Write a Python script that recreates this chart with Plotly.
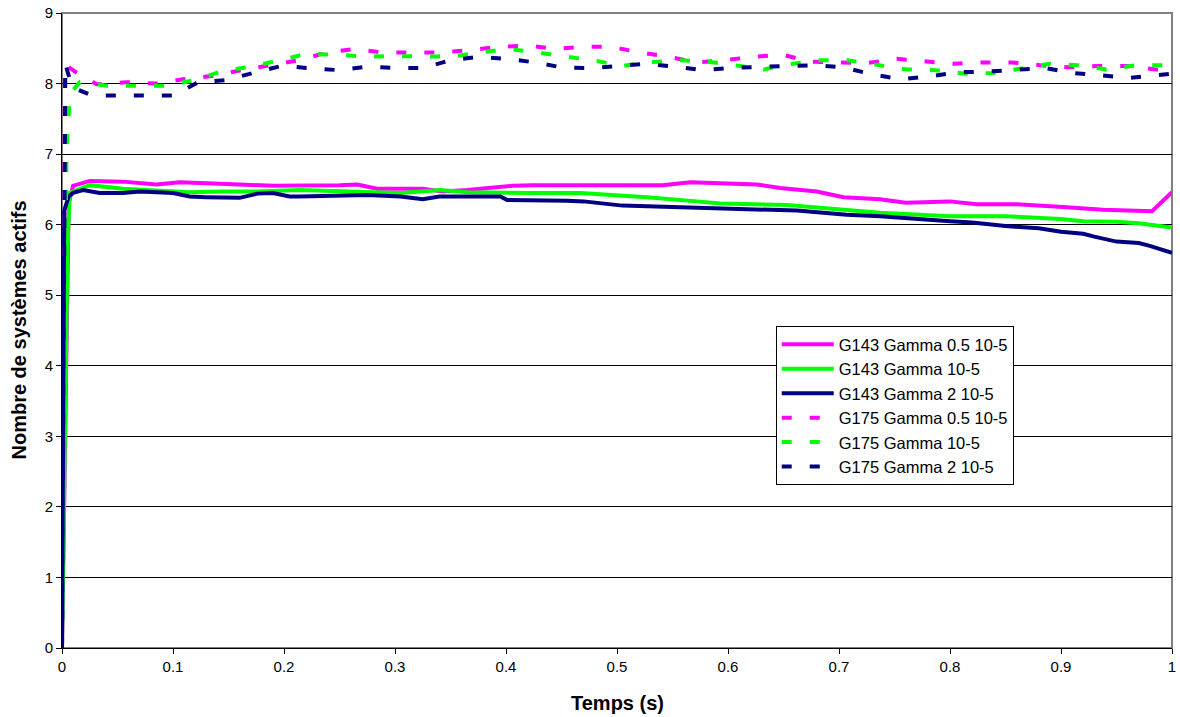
import plotly.graph_objects as go

# ---- Data ----
names = ["G143 Gamma 0.5 10-5", "G143 Gamma 10-5", "G143 Gamma 2 10-5",
         "G175 Gamma 0.5 10-5", "G175 Gamma 10-5", "G175 Gamma 2 10-5"]

t_g143_05 = [0, 0.006, 0.01, 0.025, 0.055, 0.085, 0.106, 0.13, 0.16, 0.19, 0.22, 0.25, 0.266, 0.284,
             0.325, 0.343, 0.365, 0.406, 0.424, 0.485, 0.541, 0.566, 0.626, 0.647, 0.68, 0.704, 0.737,
             0.76, 0.8, 0.824, 0.86, 0.902, 0.938, 0.982, 1.0]
v_g143_05 = [0, 6.3, 6.55, 6.62, 6.61, 6.57, 6.6, 6.59, 6.57, 6.55, 6.55, 6.56, 6.57, 6.51,
             6.51, 6.47, 6.49, 6.55, 6.56, 6.56, 6.56, 6.6, 6.57, 6.52, 6.47, 6.39, 6.36,
             6.31, 6.33, 6.29, 6.29, 6.25, 6.21, 6.19, 6.46]

t_g143_1 = [0, 0.005, 0.007, 0.025, 0.055, 0.085, 0.115, 0.145, 0.175, 0.214, 0.259, 0.305, 0.323,
            0.341, 0.365, 0.395, 0.424, 0.467, 0.527, 0.572, 0.593, 0.653, 0.707, 0.737, 0.8, 0.85,
            0.9, 0.92, 0.95, 0.97, 1.0]
v_g143_1 = [0, 5.7, 6.45, 6.56, 6.51, 6.49, 6.46, 6.47, 6.47, 6.49, 6.47, 6.45, 6.47,
            6.49, 6.46, 6.45, 6.45, 6.45, 6.39, 6.33, 6.3, 6.28, 6.21, 6.17, 6.12, 6.12,
            6.08, 6.05, 6.04, 6.02, 5.96]

t_g143_2 = [0, 0.002, 0.006, 0.01, 0.019, 0.034, 0.055, 0.07, 0.1, 0.115, 0.13, 0.145, 0.16, 0.176,
            0.19, 0.205, 0.214, 0.275, 0.305, 0.325, 0.34, 0.395, 0.401, 0.455, 0.47, 0.505, 0.557,
            0.617, 0.662, 0.707, 0.737, 0.8, 0.82, 0.85, 0.88, 0.9, 0.92, 0.93, 0.95, 0.97, 0.98, 1.0]
v_g143_2 = [0, 6.2, 6.4, 6.45, 6.49, 6.45, 6.45, 6.47, 6.45, 6.4, 6.39, 6.38, 6.38, 6.44,
            6.45, 6.4, 6.4, 6.42, 6.4, 6.36, 6.4, 6.4, 6.35, 6.34, 6.33, 6.27, 6.25,
            6.23, 6.2, 6.14, 6.12, 6.05, 6.03, 5.98, 5.95, 5.9, 5.87, 5.83, 5.76, 5.74, 5.7, 5.6]

t_g175_05 = [0, 0.0027, 0.0117, 0.0313, 0.0583, 0.0838, 0.109, 0.136, 0.162, 0.187, 0.213, 0.239,
             0.264, 0.289, 0.315, 0.34, 0.366, 0.393, 0.419, 0.444, 0.469, 0.495, 0.521, 0.546,
             0.572, 0.597, 0.623, 0.649, 0.674, 0.699, 0.725, 0.752, 0.777, 0.803, 0.829, 0.856,
             0.881, 0.906, 0.932, 0.959, 0.985, 1.0]
v_g175_05 = [0, 8.27, 8.17, 7.99, 8.02, 8.0, 8.06, 8.11, 8.19, 8.26, 8.33, 8.44,
             8.49, 8.44, 8.44, 8.44, 8.47, 8.52, 8.54, 8.49, 8.52, 8.52, 8.44, 8.38,
             8.3, 8.33, 8.38, 8.41, 8.31, 8.3, 8.29, 8.35, 8.31, 8.28, 8.3, 8.3,
             8.26, 8.23, 8.25, 8.25, 8.2, 8.2]

t_g175_1 = [0, 0.004, 0.007, 0.016, 0.041, 0.068, 0.095, 0.12, 0.145, 0.171, 0.196, 0.22, 0.247,
            0.273, 0.298, 0.324, 0.35, 0.377, 0.402, 0.428, 0.453, 0.478, 0.505, 0.528, 0.555,
            0.581, 0.606, 0.632, 0.658, 0.683, 0.708, 0.734, 0.761, 0.787, 0.814, 0.839, 0.865,
            0.89, 0.915, 0.941, 0.968, 0.994, 1.0]
v_g175_1 = [0, 7.0, 7.85, 8.02, 7.97, 7.97, 7.97, 8.05, 8.18, 8.24, 8.33, 8.42, 8.41,
            8.38, 8.39, 8.39, 8.38, 8.44, 8.49, 8.44, 8.38, 8.33, 8.25, 8.3, 8.33,
            8.31, 8.26, 8.2, 8.28, 8.33, 8.33, 8.26, 8.2, 8.19, 8.14, 8.15, 8.22,
            8.28, 8.26, 8.2, 8.26, 8.26, 8.26]

t_g175_2 = [0, 0.003, 0.009, 0.027, 0.052, 0.076, 0.1, 0.123, 0.148, 0.172, 0.198, 0.222, 0.249,
            0.275, 0.3, 0.325, 0.35, 0.375, 0.401, 0.426, 0.45, 0.476, 0.501, 0.527, 0.552,
            0.577, 0.602, 0.627, 0.653, 0.678, 0.704, 0.73, 0.756, 0.781, 0.807, 0.833, 0.859,
            0.885, 0.911, 0.936, 0.962, 0.987, 1.0]
v_g175_2 = [0, 8.28, 7.95, 7.83, 7.83, 7.83, 7.83, 8.02, 8.05, 8.15, 8.25, 8.22, 8.19,
            8.24, 8.22, 8.22, 8.33, 8.38, 8.35, 8.3, 8.23, 8.22, 8.25, 8.28, 8.24,
            8.19, 8.22, 8.24, 8.25, 8.26, 8.23, 8.13, 8.06, 8.1, 8.16, 8.17, 8.2,
            8.22, 8.15, 8.12, 8.08, 8.12, 8.14]

x_ticks = [0, 0.1, 0.2, 0.3, 0.4, 0.5, 0.6, 0.7, 0.8, 0.9, 1]
x_tick_labels = ["0", "0.1", "0.2", "0.3", "0.4", "0.5", "0.6", "0.7", "0.8", "0.9", "1"]
y_ticks = list(range(0, 10))
x_title = "Temps (s)"
y_title = "Nombre de systèmes actifs"

# ---- Styles ----
series = [
    (t_g143_05, v_g143_05, "#FF00FF", "solid"),
    (t_g143_1, v_g143_1, "#00FF00", "solid"),
    (t_g143_2, v_g143_2, "#000080", "solid"),
    (t_g175_05, v_g175_05, "#FF00FF", "10px,18px"),
    (t_g175_1, v_g175_1, "#00FF00", "10px,18px"),
    (t_g175_2, v_g175_2, "#000080", "10px,18px"),
]

fig = go.Figure()
for i, (t, v, c, d) in enumerate(series):
    fig.add_trace(go.Scatter(x=t, y=v, mode="lines", name=names[i],
                             legendgroup=f"g{i}",
                             line=dict(color=c, width=4, dash=d)))

font = "Arial, 'Liberation Sans', sans-serif"
fig.update_layout(
    width=1180, height=717,
    margin=dict(l=62, r=8, t=13, b=69, autoexpand=False),
    paper_bgcolor="white", plot_bgcolor="white",
    font=dict(family=font, size=15, color="black"),
    showlegend=True,
    legend=dict(x=0.643, y=0.507, xanchor="left", yanchor="top",
                bgcolor="white", bordercolor="black", borderwidth=1,
                font=dict(size=16.5, family=font), tracegroupgap=0,
                itemwidth=52),
    xaxis=dict(range=[0, 1], tickvals=x_ticks, ticktext=x_tick_labels,
               showgrid=False, zeroline=False, showline=True, linecolor="black",
               linewidth=1, ticks="outside", ticklen=5, tickcolor="black",
               automargin=False, tickfont=dict(size=15), ticklabeloverflow="allow"),
    yaxis=dict(range=[0, 9], tickvals=y_ticks,
               showgrid=True, gridcolor="black", gridwidth=1, zeroline=False,
               showline=True, linecolor="black", linewidth=1,
               ticks="outside", ticklen=5, tickcolor="black",
               automargin=False, tickfont=dict(size=15), ticklabeloverflow="allow"),
    shapes=[dict(type="rect", xref="paper", yref="paper", x0=0, x1=1, y0=0, y1=1,
                 line=dict(color="#808080", width=2), layer="below")],
    annotations=[
        dict(text=f"<b>{x_title}</b>", xref="paper", yref="paper", x=0.5, y=0,
             xanchor="center", yanchor="middle", yshift=-55, showarrow=False,
             font=dict(size=20, family=font)),
        dict(text=f"<b>{y_title}</b>", xref="paper", yref="paper", x=0, y=0.5,
             xanchor="center", yanchor="middle", xshift=-44, textangle=-90,
             showarrow=False, font=dict(size=20, family=font)),
    ],
)

fig.write_html("out.html", config={"displayModeBar": False},
               post_script="document.body.style.margin='0';")
